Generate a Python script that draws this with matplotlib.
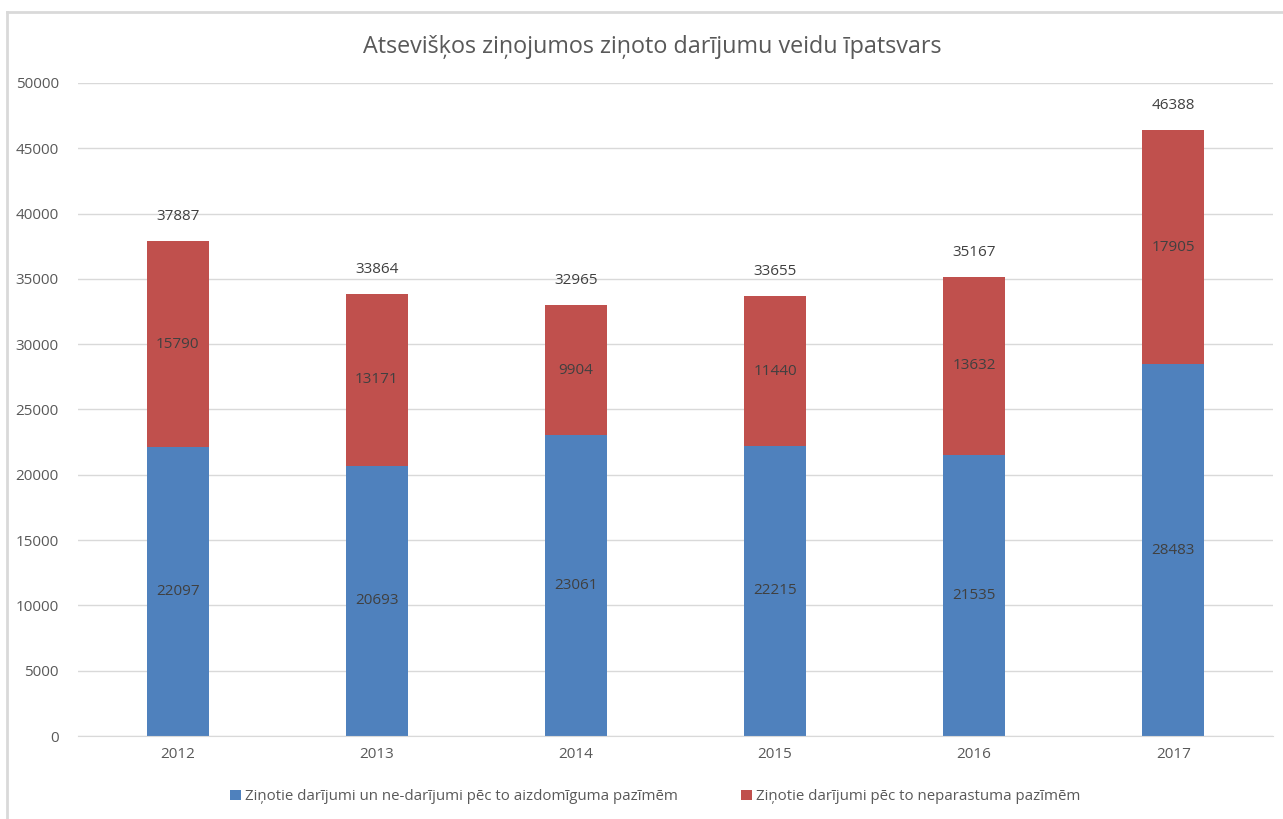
import matplotlib.pyplot as plt
import numpy as np
from matplotlib.lines import Line2D

years = ["2012", "2013", "2014", "2015", "2016", "2017"]
suspicious = [22097, 20693, 23061, 22215, 21535, 28483]
unusual = [15790, 13171, 9904, 11440, 13632, 17905]

label_suspicious = "Ziņotie darījumi un ne-darījumi pēc to aizdomīguma pazīmēm"
label_unusual = "Ziņotie darījumi pēc to neparastuma pazīmēm"
title = "Atsevišķos ziņojumos ziņoto darījumu veidu īpatsvars"

blue = "#4F81BD"
red = "#C0504D"
text_col = "#595959"

plt.rcParams["font.family"] = ["Open Sans", "DejaVu Sans"]

fig = plt.figure(figsize=(12.83, 8.19), dpi=100)
ax = fig.add_axes([0.061, 0.1013, 0.931, 0.7974])

x = np.arange(len(years))
totals = np.array(suspicious) + np.array(unusual)
width = 0.31

b1 = ax.bar(x, suspicious, width, color=blue, label=label_suspicious, zorder=2)
b2 = ax.bar(x, unusual, width, bottom=suspicious, color=red, label=label_unusual, zorder=2)

for i in range(len(years)):
    ax.text(x[i], suspicious[i] / 2, str(suspicious[i]), ha="center", va="center",
            fontsize=11, color="#404040", zorder=3)
    ax.text(x[i], suspicious[i] + unusual[i] / 2, str(unusual[i]), ha="center",
            va="center", fontsize=11, color="#404040", zorder=3)
    ax.text(x[i], totals[i] + 1300, str(totals[i]), ha="center", va="bottom",
            fontsize=11, color="#404040", zorder=3)

ax.set_xlim(-0.5, len(years) - 0.5)
ax.set_ylim(0, 50000)
ax.set_yticks(np.arange(0, 50001, 5000))
ax.set_xticks(x)
ax.set_xticklabels(years)
ax.tick_params(axis="both", length=0, labelsize=11, colors=text_col)
ax.tick_params(axis="y", pad=14)
ax.tick_params(axis="x", pad=8)
ax.grid(axis="y", color="#D9D9D9", linewidth=1, zorder=0)
for s in ["top", "right", "left"]:
    ax.spines[s].set_visible(False)
ax.spines["bottom"].set_color("#D9D9D9")

fig.text(0.508, 0.943, title, ha="center", va="center", fontsize=16.8, color=text_col)

fig.legend(handles=[b1, b2], loc="center", bbox_to_anchor=(0.511, 0.027), ncol=2,
           frameon=False, fontsize=10.8, labelcolor=text_col, handlelength=0.7,
           handleheight=0.7, handletextpad=0.3, columnspacing=4.2)

# chart area border
fig.add_artist(Line2D([7 / 1283, 7 / 1283], [0, 1 - 12 / 819], color="#D9D9D9", linewidth=2))
fig.add_artist(Line2D([7 / 1283, 1], [1 - 12 / 819, 1 - 12 / 819], color="#D9D9D9", linewidth=2))

fig.savefig("out.png", dpi=100)
